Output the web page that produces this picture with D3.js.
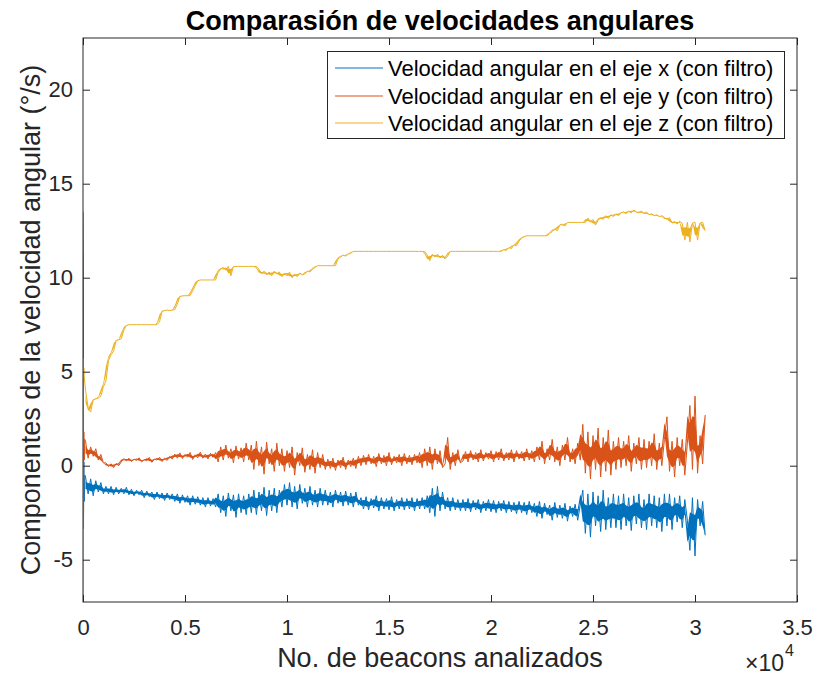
<!DOCTYPE html>
<html>
<head>
<meta charset="utf-8">
<script src="https://cdn.jsdelivr.net/npm/d3@7"></script>
<style>
  html, body { margin: 0; padding: 0; background: #ffffff; }
  svg { display: block; }
  text { font-family: "Liberation Sans", Arial, Helvetica, sans-serif; fill: #262626; }
</style>
</head>
<body>
<div id="chart"></div>
<script>
// ---------------- DATA ----------------
const titleText = "Comparasión de velocidades angulares";
const xLabelText = "No. de beacons analizados";
const yLabelText = "Componentes de la velocidad angular (°/s)";
const seriesNames = [
  "Velocidad angular en el eje x (con filtro)",
  "Velocidad angular en el eje y (con filtro)",
  "Velocidad angular en el eje z (con filtro)"
];
const seriesColors = ["#0072BD", "#D95319", "#EDB120"];

const xDomain = [0, 35000];
const yDomain = [-7.25, 22.75];
const xTicks = [0, 5000, 10000, 15000, 20000, 25000, 30000, 35000];
const xTickLabels = ["0", "0.5", "1", "1.5", "2", "2.5", "3", "3.5"];
const yTicks = [-5, 0, 5, 10, 15, 20];
const yTickLabels = ["-5", "0", "5", "10", "15", "20"];

// sample positions (beacon index): initial transient, then every 125 beacons
const startBeacons = [0, 12, 25, 40, 60, 90];
const gridBeacons = d3.range(125, 30501, 125);

const blueStart = [13.5, 10.5, -2.8, 0.2, -1.9, -0.5];
const blueGrid = [
  -0.6, -1.5, -0.7, -1.6, -0.8,
  -1.4, -0.9, -1.5,
  -1.1, -1.5, -1.1, -1.55, -1.15, -1.5,
  -1.2, -1.5, -1.15, -1.55, -1.25, -1.6, -1.3, -1.55, -1.3, -1.7, -1.35, -1.65, -1.4, -1.8, -1.4, -1.75, -1.45, -1.85, -1.45, -1.8,
  -1.5, -1.9, -1.5, -2.0, -1.55, -1.95, -1.6, -2.1, -1.6, -2.05, -1.65, -2.1, -1.7, -2.2, -1.7, -2.15, -1.75, -2.2,
  -1.5, -2.5, -1.6, -2.7, -1.45, -2.4, -1.55, -2.75, -1.5, -2.5, -1.6, -2.6, -1.5,
  -2.5, -1.3, -2.6, -1.4, -2.4, -1.15, -2.65, -1.3, -2.4, -1.2, -2.5, -1.3,
  -2.2, -1.0, -2.1, -0.9, -2.2, -1.1, -2.3, -1.0, -2.0, -1.2, -2.2, -1.1, -2.1, -1.3, -2.2, -1.2, -2.1,
  -1.3, -2.1, -1.4, -2.2, -1.3, -2.0, -1.4, -2.15, -1.35, -2.1, -1.45, -2.2, -1.4, -2.1,
  -1.7, -2.3, -1.65, -2.35, -1.75, -2.25, -1.6, -2.4, -1.7, -2.3, -1.75, -2.35, -1.65, -2.4, -1.8, -2.3, -1.7, -2.35, -1.75, -2.3, -1.7, -2.4, -1.75, -2.3,
  -1.7, -2.3, -1.6, -2.5, -1.2, -2.7, -1.1, -2.4, -1.4, -2.3, -1.7, -2.4, -1.7, -2.35, -1.8, -2.4,
  -1.8, -2.4, -1.75, -2.45, -1.85, -2.35, -1.8, -2.5, -1.9, -2.4, -1.8, -2.45, -1.85, -2.5, -1.9, -2.4, -1.85, -2.5, -1.9, -2.45, -1.95, -2.55, -1.9, -2.5, -1.95, -2.6, -1.9, -2.5,
  -2.0, -2.7, -1.9, -2.8, -2.0, -2.6, -2.1, -2.9, -1.95, -2.75, -2.1, -2.8, -2.0, -2.95, -2.15, -2.7, -2.05, -2.9, -2.1,
  -1.3, -3.6, -1.5, -3.8, -1.4, -3.2, -1.6, -3.5, -1.3, -3.4, -1.7, -3.3, -1.5,
  -3.3, -1.6, -3.4, -1.5, -3.2, -1.7, -3.45, -1.6, -3.1, -1.5, -3.3, -1.8, -3.4, -1.5, -3.2, -1.6, -3.3, -1.7, -3.5, -1.5,
  -3.2, -1.5, -3.4, -1.7, -3.0, -1.6, -3.3, -1.8, -2.9, -4.5, -1.7, -4.8, -1.8, -3.2, -1.9, -3.7
];

const redStart = [11.3, 6.0, -3.35, 1.8, 0.3, 1.4];
const redGrid = [
  1.3, 0.4, 1.0, 0.5, 0.9,
  0.3, 0.6, 0.15,
  0.15, -0.05, 0.1, -0.1, 0.12, 0.0,
  0.2, 0.38, 0.25, 0.4, 0.22, 0.35, 0.28, 0.42, 0.2, 0.33, 0.26, 0.44, 0.18, 0.36, 0.3, 0.45, 0.22, 0.4, 0.28, 0.5,
  0.35, 0.62, 0.4, 0.68, 0.38, 0.6, 0.45, 0.7, 0.33, 0.58, 0.42, 0.72, 0.4, 0.62, 0.36, 0.66, 0.44, 0.7,
  0.2, 1.0, 0.3, 1.1, 0.4, 0.9, 0.15, 1.05, 0.35, 0.95, 0.2, 1.2, 0.3,
  1.1, -0.2, 1.3, 0.0, 1.0, -0.45, 1.25, 0.1, 0.9, -0.3, 1.2, 0.0,
  0.9, -0.3, 0.8, -0.1, 1.0, -0.5, 0.7, 0.0, 0.95, -0.35, 0.6, -0.2, 0.85, -0.4, 0.7, -0.1, 0.6,
  -0.2, 0.35, -0.15, 0.4, -0.25, 0.3, -0.1, 0.45, -0.2, 0.3, -0.05, 0.4, -0.15, 0.5,
  0.0, 0.55, 0.05, 0.6, 0.1, 0.5, -0.05, 0.65, 0.1, 0.55, 0.0, 0.7, 0.05, 0.5, 0.15, 0.6, 0.0, 0.65, 0.1, 0.55, 0.05, 0.6, 0.15, 0.7,
  -0.1, 0.9, 0.0, 1.0, -0.2, 0.9, 0.1, 0.8, -0.1, 0.1, 1.5, -0.2, 0.7, 0.0, 0.85, 0.15,
  0.25, 0.75, 0.2, 0.8, 0.3, 0.7, 0.2, 0.85, 0.25, 0.7, 0.35, 0.8, 0.2, 0.75, 0.3, 0.9, 0.25, 0.7, 0.3, 0.85, 0.2, 0.8, 0.35, 0.75, 0.25, 0.9, 0.3, 0.8,
  0.2, 1.0, 0.3, 1.3, 0.1, 0.9, 0.3, 1.4, 0.2, 1.0, 0.0, 1.1, 0.3, 1.5, 0.2, 0.9, 0.1, 1.2, 0.3,
  2.2, -0.4, 1.8, -0.7, 1.6, -0.2, 2.0, -0.6, 1.5, -0.3, 1.9, -0.5, 1.3,
  -0.2, 1.5, -0.1, 1.3, 0.0, 1.6, -0.3, 1.2, 0.1, 1.5, -0.2, 1.4, -0.1, 1.3, 0.0, 1.7, -0.2, 1.2, 0.0, 1.4,
  2.6, -0.3, 1.3, -0.6, 1.5, 0.0, 1.4, -0.5, 1.2, 3.2, -0.2, 3.7, -0.4, 1.6, 0.1, 2.7
];

const yellowStart = [-7.25, 5.7, 4.6, 5.2, 4.8, 4.4];
const yellowGrid = [
  4.0, 3.1, 2.85, 3.5, 3.55, 3.6, 3.7, 4.2, 4.5, 5.6, 5.9, 6.1, 6.65, 6.7, 6.75, 7.2, 7.45,
  7.5, 7.5, 7.5, 7.5, 7.5, 7.5, 7.5, 7.5, 7.5, 7.5, 7.5, 7.5,
  7.65, 8.2,
  8.25, 8.28, 8.25, 8.28, 8.3,
  8.6, 9.0,
  9.03, 9.04, 9.04, 9.05,
  9.3, 9.57, 9.84,
  9.88, 9.88, 9.88, 9.88, 9.88, 9.88, 9.88,
  10.28, 10.45, 10.55, 10.4, 10.6, 10.1, 10.6,
  10.6, 10.6, 10.6, 10.6, 10.6, 10.6, 10.6, 10.6, 10.6,
  10.45, 10.2,
  10.35, 10.15, 10.3, 10.1, 10.35, 10.2, 10.3, 10.05, 10.25, 10.1, 10.3, 10.0, 10.2, 10.05, 10.25, 10.15,
  10.2, 10.35, 10.3, 10.45,
  10.55,
  10.64, 10.64, 10.64, 10.64, 10.64, 10.64, 10.64, 10.64,
  11.0, 11.1, 11.2, 11.15, 11.25, 11.3, 11.4,
  11.4, 11.4, 11.4, 11.4, 11.4, 11.4, 11.4, 11.4, 11.4, 11.4, 11.4, 11.4, 11.4, 11.4,
  11.4, 11.4, 11.4, 11.4, 11.4, 11.4, 11.4, 11.4, 11.4, 11.4, 11.4, 11.4, 11.4, 11.4,
  11.2, 10.9, 11.25,
  11.1, 11.25, 11.05, 11.2, 11.0, 11.15,
  11.4,
  11.4, 11.4, 11.4, 11.4, 11.4, 11.4, 11.4, 11.4, 11.4, 11.4,
  11.4, 11.4, 11.4, 11.4, 11.4, 11.4, 11.4, 11.4, 11.4, 11.4,
  11.5,
  11.45, 11.6, 11.55, 11.75, 11.7, 11.95,
  12.1, 12.18,
  12.23, 12.23, 12.23, 12.23, 12.23, 12.23, 12.23, 12.23, 12.23,
  12.35, 12.45, 12.6, 12.5, 12.8, 12.85, 12.75, 12.94,
  12.94, 12.94, 12.94, 12.94, 12.94, 12.94, 12.94,
  13.17,
  12.95, 13.1, 12.8, 13.05,
  13.2, 13.1, 13.3, 13.15, 13.35, 13.25,
  13.4, 13.3, 13.45, 13.5, 13.4, 13.55, 13.45, 13.6,
  13.5, 13.45, 13.55, 13.4, 13.5,
  13.35, 13.4, 13.3, 13.35, 13.25, 13.3, 13.2,
  13.1, 13.2, 12.9, 13.0,
  12.85, 13.0, 12.9, 12.0, 12.95, 11.9, 12.9, 12.95, 12.0, 12.9, 12.95, 12.5
];

// ---------------- LAYOUT ----------------
const W = 817, H = 675;
const plot = { left: 83, top: 38, right: 797, bottom: 602 };
const fontFamily = '"Liberation Sans", Arial, Helvetica, sans-serif';
const axisColor = "#262626";
const coreShare = 0.45; // share of the sample-to-sample swing drawn as the dense core of the noise

const svg = d3.select("#chart").append("svg")
  .attr("width", W).attr("height", H)
  .attr("viewBox", `0 0 ${W} ${H}`);

svg.append("rect").attr("width", W).attr("height", H).attr("fill", "#ffffff");

const x = d3.scaleLinear().domain(xDomain).range([plot.left, plot.right]);
const y = d3.scaleLinear().domain(yDomain).range([plot.bottom, plot.top]);

svg.append("defs").append("clipPath").attr("id", "clip")
  .append("rect")
  .attr("x", plot.left).attr("y", plot.top)
  .attr("width", plot.right - plot.left).attr("height", plot.bottom - plot.top);

const beacons = startBeacons.concat(gridBeacons);
const seriesValues = [
  blueStart.concat(blueGrid),
  redStart.concat(redGrid),
  yellowStart.concat(yellowGrid)
];

const line = d3.line().x(d => x(d.b)).y(d => y(d.v));
const core = d3.area().x(d => x(d.b)).y0(d => y(d.lo)).y1(d => y(d.hi));
const lineG = svg.append("g").attr("clip-path", "url(#clip)");
seriesValues.forEach((vals, k) => {
  const n = Math.min(vals.length, beacons.length);
  const pts = d3.range(n).map(i => {
    const nxt = i + 1 < n ? vals[i + 1] : vals[i];
    const mid = (vals[i] + nxt) / 2;
    const half = Math.abs(vals[i] - nxt) / 2 * coreShare;
    return { b: beacons[i], v: vals[i], lo: mid - half, hi: mid + half };
  });
  lineG.append("path")
    .datum(pts.filter(p => p.b >= 125))
    .attr("fill", seriesColors[k])
    .attr("stroke", "none")
    .attr("d", core);
  lineG.append("path")
    .datum(pts)
    .attr("fill", "none")
    .attr("stroke", seriesColors[k])
    .attr("stroke-width", 1)
    .attr("stroke-linejoin", "round")
    .attr("d", line);
});

// axes
function styleAxis(g) {
  g.attr("font-family", fontFamily).attr("font-size", 22);
  g.selectAll("path.domain").remove();
  g.selectAll("line").attr("stroke", axisColor).attr("stroke-width", 1);
  g.selectAll("text").attr("fill", axisColor);
}

svg.append("g")
  .attr("transform", `translate(0,${plot.bottom})`)
  .call(d3.axisBottom(x).tickValues(xTicks).tickFormat((d, i) => xTickLabels[i])
    .tickSizeInner(-7).tickSizeOuter(0).tickPadding(17))
  .call(styleAxis);

svg.append("g")
  .attr("transform", `translate(0,${plot.top})`)
  .call(d3.axisTop(x).tickValues(xTicks).tickFormat("")
    .tickSizeInner(-7).tickSizeOuter(0))
  .call(styleAxis);

svg.append("g")
  .attr("transform", `translate(${plot.left},0)`)
  .call(d3.axisLeft(y).tickValues(yTicks).tickFormat((d, i) => yTickLabels[i])
    .tickSizeInner(-7).tickSizeOuter(0).tickPadding(10))
  .call(styleAxis);

svg.append("g")
  .attr("transform", `translate(${plot.right},0)`)
  .call(d3.axisRight(y).tickValues(yTicks).tickFormat("")
    .tickSizeInner(-7).tickSizeOuter(0))
  .call(styleAxis);

svg.append("rect")
  .attr("x", plot.left).attr("y", plot.top)
  .attr("width", plot.right - plot.left).attr("height", plot.bottom - plot.top)
  .attr("fill", "none").attr("stroke", axisColor).attr("stroke-width", 1);

// title
svg.append("text")
  .attr("x", (plot.left + plot.right) / 2).attr("y", 30)
  .attr("text-anchor", "middle")
  .attr("font-size", 27).attr("font-weight", "bold")
  .style("fill", "#000")
  .text(titleText);

// x label
svg.append("text")
  .attr("x", (plot.left + plot.right) / 2).attr("y", 667)
  .attr("text-anchor", "middle")
  .attr("font-size", 27)
  .text(xLabelText);

// exponent of the x axis
svg.append("text")
  .attr("x", 784).attr("y", 671)
  .attr("text-anchor", "end")
  .attr("font-size", 23)
  .text("×10");
svg.append("text")
  .attr("x", 785).attr("y", 656)
  .attr("font-size", 16)
  .text("4");

// y label
svg.append("text")
  .attr("transform", `translate(40,${(plot.top + plot.bottom) / 2}) rotate(-90)`)
  .attr("text-anchor", "middle")
  .attr("font-size", 27)
  .text(yLabelText);

// legend
const legend = { x: 327.5, y: 51.5, w: 457, h: 87, rowY: [68, 96, 123] };
svg.append("rect")
  .attr("x", legend.x).attr("y", legend.y)
  .attr("width", legend.w).attr("height", legend.h)
  .attr("fill", "#ffffff").attr("stroke", axisColor).attr("stroke-width", 1);
seriesNames.forEach((name, k) => {
  svg.append("line")
    .attr("x1", 335).attr("x2", 383)
    .attr("y1", legend.rowY[k]).attr("y2", legend.rowY[k])
    .attr("stroke", seriesColors[k]).attr("stroke-width", 1);
  svg.append("text")
    .attr("x", 388).attr("y", legend.rowY[k] + 8)
    .attr("font-size", 22)
    .style("fill", "#000")
    .text(name);
});
</script>
</body>
</html>
